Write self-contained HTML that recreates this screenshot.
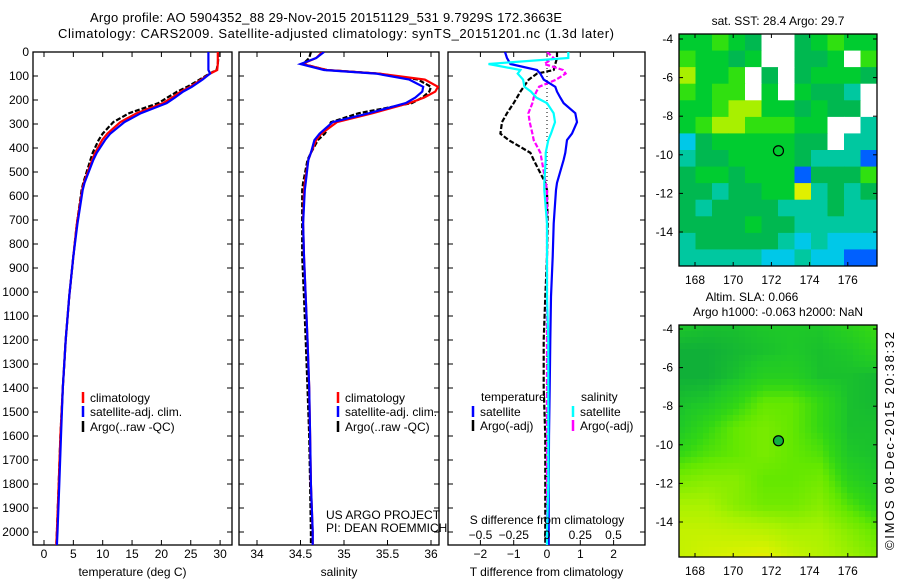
<!DOCTYPE html>
<html><head><meta charset="utf-8"><style>
html,body{margin:0;padding:0;background:#fff;}
svg{display:block;font-family:"Liberation Sans",sans-serif;}
text{fill:#000;}
</style></head><body>
<svg id="fig" width="900" height="580" viewBox="0 0 900 580">
<text x="326" y="22" font-size="13" text-anchor="middle" textLength="472">Argo profile: AO 5904352_88 29-Nov-2015 20151129_531 9.7929S 172.3663E</text>
<text x="336" y="38" font-size="13" text-anchor="middle" textLength="556">Climatology: CARS2009. Satellite-adjusted climatology: synTS_20151201.nc (1.3d later)</text>
<g id="g"></g>
</svg>
<script>
// ---------- data ----------
const depths = [0,25,50,75,90,115,145,165,190,213,255,292,340,367,420,450,545,575,714,853,1020,1200,1400,1600,1800,2000,2054];
const tempClim = [29.6,29.6,29.6,29.5,28.3,26.8,24.9,23.3,21.8,20.3,15.8,13.0,10.8,9.9,8.7,8.2,6.8,6.5,5.6,5.0,4.3,3.7,3.2,2.8,2.5,2.2,2.1];
const tempSat  = [28.0,28.0,28.0,28.0,28.3,27.0,25.2,23.7,22.3,20.9,16.5,13.7,11.3,10.4,9.0,8.4,6.9,6.6,5.7,5.0,4.3,3.7,3.2,2.9,2.6,2.3,2.2];
const tempArgo = [29.7,29.7,29.6,29.4,28.2,26.5,24.4,22.7,21.0,19.5,14.5,11.8,10.0,9.3,8.3,7.9,6.7,6.4,5.6,5.0,4.3,3.7,3.2,2.8,2.5,2.2,2.1];
const salClim  = [34.75,34.68,34.52,34.8,35.4,35.93,36.08,36.05,35.92,35.75,35.33,34.92,34.74,34.68,34.62,34.59,34.55,34.54,34.53,34.54,34.56,34.58,34.6,34.61,34.62,34.64,34.64];
const salSat   = [34.77,34.68,34.5,34.77,35.37,35.75,35.91,35.9,35.82,35.71,35.29,34.87,34.72,34.66,34.62,34.59,34.56,34.55,34.53,34.54,34.56,34.58,34.6,34.61,34.62,34.64,34.64];
const salArgo  = [34.62,34.6,34.53,34.8,35.4,35.85,36.0,35.98,35.9,35.78,35.17,34.85,34.78,34.7,34.62,34.58,34.53,34.52,34.52,34.52,34.54,34.56,34.58,34.6,34.61,34.62,34.62];
const dTsat  = [-1.26,-1.2,-1.1,-0.3,-0.2,-0.1,0.25,0.3,0.4,0.5,0.85,0.9,0.75,0.6,0.55,0.5,0.3,0.27,0.2,0.17,0.12,0.1,0.08,0.06,0.05,0.05,0.05];
const dSsat  = [0.16,0.16,-0.44,-0.2,-0.22,-0.18,-0.17,-0.12,-0.08,0.0,0.05,0.06,0.03,0.01,-0.01,-0.01,-0.02,-0.02,0.0,0.0,0.0,0.01,0.01,0.01,0.01,0.0,0.0];
const dTargo = [0.3,0.3,0.25,0.2,-0.3,-0.55,-0.7,-0.8,-0.9,-1.0,-1.2,-1.35,-1.4,-1.15,-0.5,-0.4,-0.05,0.0,0.02,0.0,-0.05,-0.1,-0.1,-0.05,-0.05,-0.05,-0.05];
const dSargo = [0.0,0.05,-0.02,0.12,0.14,0.07,-0.06,-0.08,-0.1,-0.11,-0.14,-0.13,-0.11,-0.1,-0.05,-0.04,-0.01,0.0,0.0,0.0,0.0,0.0,0.0,0.0,0.0,0.0,0.0];
const depthTicks = [0,100,200,300,400,500,600,700,800,900,1000,1100,1200,1300,1400,1500,1600,1700,1800,1900,2000];
const tempTicks = [0,5,10,15,20,25,30];
const salTicks = [34,34.5,35,35.5,36];
const salTickLabels = ["34","34.5","35","35.5","36"];
const dTTicks = [-2,-1,0,1,2];
const dSTicks = [-0.5,-0.25,0,0.25,0.5];
const dSTickLabels = ["\u22120.5","\u22120.25","0","0.25","0.5"];
const lonTicks = [168,170,172,174,176];
const latTicks = [-4,-6,-8,-10,-12,-14];
const argoLon = 172.37, argoLat = -9.79;
// SST map grid (palette index, -1 = missing), rows from north to south
const sstGrid = [
[5,5,6,5,4,-1,-1,4,5,6,5,5],
[6,5,5,4,5,-1,-1,4,4,5,-1,6],
[7,5,5,6,-1,4,-1,4,5,5,5,4],
[6,5,6,6,-1,5,-1,5,4,4,3,-1],
[5,5,6,7,7,5,5,4,5,4,4,-1],
[5,6,7,7,6,6,6,5,5,-1,-1,3],
[2,4,5,5,5,5,5,4,4,-1,3,3],
[3,4,4,5,5,5,5,4,3,3,3,1],
[4,5,5,4,5,5,5,1,4,4,4,6],
[4,4,3,4,4,5,5,8,3,4,3,4],
[4,3,4,4,4,4,3,3,3,4,3,3],
[4,4,4,4,5,4,4,3,3,3,3,3],
[3,4,4,4,4,4,3,2,3,2,2,2],
[3,3,3,3,3,2,2,3,2,2,1,1]];
const slaGrid = [
[5,4.9,4.9,5,5,5,5.3,5.6],
[4.7,4.7,4.8,4.9,5,4.9,5,5.3],
[4.7,4.7,4.9,5.2,5.2,4.9,4.9,4.8],
[4.9,5,5.4,6,6,5.5,4.9,4.8],
[5,5.5,6,6.3,6,5.5,4.9,4.9],
[5.5,5.8,6,6.3,6,5.8,5,4.9],
[6.3,6.5,6.5,6,6,6.2,5.3,5],
[7,7,6.5,6.2,6.2,6.5,5.8,5.3],
[7.5,7.5,7.4,7.3,7,7,6.5,6],
[7.5,7.8,8,8.2,7.6,7.2,6.8,6.4]];
</script>
<script>
const NS='http://www.w3.org/2000/svg';
const G=document.getElementById('g');
function mk(tag,attrs,parent){const e=document.createElementNS(NS,tag);for(const k in attrs)e.setAttribute(k,attrs[k]);(parent||G).appendChild(e);return e;}
function txt(x,y,s,anchor,size,parent){const t=mk('text',{x:x,y:y,'font-size':size||12,'text-anchor':anchor||'middle'},parent);t.textContent=s;return t;}
const yTop=52,yPer=0.24,fTop=52,fBot=545;
const yD=d=>yTop+d*yPer;

function panel(name,x0,x1,xs,ticks,labels,xlabel,series,showDepthLabels){
  const g=mk('g',{});
  
  
  const fr=mk('rect',{x:x0,y:fTop,width:x1-x0,height:fBot-fTop,fill:'none',stroke:'#000','stroke-width':1.3},g);
  
  
  depthTicks.forEach(d=>{
    const y=yD(d);
    mk('line',{x1:x0,x2:x0+5,y1:y,y2:y,stroke:'#000'},g);
    mk('line',{x1:x1-5,x2:x1,y1:y,y2:y,stroke:'#000'},g);
    if(showDepthLabels){const t=txt(x0-4,y+4,String(d),'end',12,g);
      
      }
  });
  ticks.forEach((v,i)=>{
    const x=xs(v);
    mk('line',{x1:x,x2:x,y1:fBot,y2:fBot-5,stroke:'#000'},g);
    mk('line',{x1:x,x2:x,y1:fTop,y2:fTop+5,stroke:'#000'},g);
    if(labels){const t=txt(x,558,labels[i],'middle',12,g);
      
      }
  });
  const xl=txt((x0+x1)/2,576,xlabel,'middle',12,g);
  
  
  const cp=mk('clipPath',{id:'cp'+name},g);
  mk('rect',{x:x0,y:fTop,width:x1-x0,height:fBot-fTop},cp);
  series.forEach(s=>{
    const pts=s.vals.map((v,i)=>s.xs(v).toFixed(1)+','+yD(depths[i]).toFixed(1)).join(' ');
    const p=mk('polyline',{points:pts,fill:'none',stroke:s.color,'stroke-width':2.2,'stroke-dasharray':s.dash||'none','clip-path':'url(#cp'+name+')'},g);
    
    
  });
  return g;
}
function legendEntry(x,y,color,label,parent,name){
  const l=mk('line',{x1:x,x2:x,y1:y-10,y2:y+1,stroke:color,'stroke-width':2.5},parent);
  const t=txt(x+7,y,label,'start',12,parent);
  const g=mk('g',{},parent);g.appendChild(l);g.appendChild(t);
  
  
}
// Panel 1 temperature
const xT=v=>44+v*5.87;
const p1=panel('temperature-panel',33,232,xT,tempTicks,tempTicks.map(String),'temperature (deg C)',[
 {vals:tempArgo,xs:xT,color:'#000',dash:'5,2',name:'argo-temperature-line'},
 {vals:tempClim,xs:xT,color:'#f00',name:'climatology-temperature-line'},
 {vals:tempSat,xs:xT,color:'#00f',name:'satellite-temperature-line'}],true);
legendEntry(83,402,'#f00','climatology',p1,'legend-climatology');
legendEntry(83,416,'#00f','satellite-adj. clim.',p1,'legend-satellite');
legendEntry(83,431,'#000','Argo(..raw -QC)',p1,'legend-argo');
// Panel 2 salinity
const xS=v=>257+(v-34)*87;
const p2=panel('salinity-panel',239,439,xS,salTicks,salTickLabels,'salinity',[
 {vals:salArgo,xs:xS,color:'#000',dash:'5,2',name:'argo-salinity-line'},
 {vals:salClim,xs:xS,color:'#f00',name:'climatology-salinity-line'},
 {vals:salSat,xs:xS,color:'#00f',name:'satellite-salinity-line'}],false);
legendEntry(338,402,'#f00','climatology',p2,'legend-climatology-2');
legendEntry(338,416,'#00f','satellite-adj. clim.',p2,'legend-satellite-2');
legendEntry(338,431,'#000','Argo(..raw -QC)',p2,'legend-argo-2');
const u1=txt(326,519,'US ARGO PROJECT','start',12,p2);
const u2=txt(326,532,'PI: DEAN ROEMMICH','start',12,p2);
// Panel 3 differences
const xdT=v=>547+v*33.3, xdS=v=>547+v*133;
const p3=panel('difference-panel',448,645,xdT,dTTicks,dTTicks.map(v=>v<0?'\u2212'+(-v):String(v)),'T difference from climatology',[],false);
mk('line',{x1:xdT(0),x2:xdT(0),y1:fTop,y2:fBot,stroke:'#000','stroke-dasharray':'1,3'},p3);
[{vals:dTargo,xs:xdT,color:'#000',dash:'5,2',name:'argo-temp-diff-line'},
 {vals:dSargo,xs:xdS,color:'#f0f',dash:'5,2',name:'argo-sal-diff-line'},
 {vals:dTsat,xs:xdT,color:'#00f',name:'satellite-temp-diff-line'},
 {vals:dSsat,xs:xdS,color:'#0ff',name:'satellite-sal-diff-line'}].forEach(s=>{
  const pts=s.vals.map((v,i)=>s.xs(v).toFixed(1)+','+yD(depths[i]).toFixed(1)).join(' ');
  const p=mk('polyline',{points:pts,fill:'none',stroke:s.color,'stroke-width':2.2,'stroke-dasharray':s.dash||'none','clip-path':'url(#cpdifference-panel)'},p3);
  
  
});
dSTicks.forEach((v,i)=>{const t=txt(xdS(v),539,dSTickLabels[i],'middle',12,p3);
  });
const sl=txt(547,524,'S difference from climatology','middle',12,p3);
const lt=txt(481,401,'temperature','start',12,p3);
const ls=txt(581,401,'salinity','start',12,p3);
legendEntry(473,416,'#00f','satellite',p3,'legend-temp-satellite');
legendEntry(473,430,'#000','Argo(-adj)',p3,'legend-temp-argo');
legendEntry(573,416,'#0ff','satellite',p3,'legend-sal-satellite');
legendEntry(573,430,'#f0f','Argo(-adj)',p3,'legend-sal-argo');

// ---------- maps ----------
const sstPal=['#0010a0','#0060ff','#00c8e8','#00c8a0','#00b850','#00cc30','#30e010','#a8f000','#e0f000','#ffc000'];
function slaColor(v){
  const stops=[[4.7,[16,176,56]],[5,[30,200,40]],[5.5,[50,215,20]],[6,[100,232,0]],[7,[170,242,0]],[8,[220,242,0]],[8.3,[235,232,0]]];
  for(let i=0;i<stops.length-1;i++){const a=stops[i],b=stops[i+1];
    if(v<=b[0]||i==stops.length-2){const t=Math.max(0,Math.min(1,(v-a[0])/(b[0]-a[0])));
      return 'rgb('+a[1].map((c,k)=>Math.round(c+(b[1][k]-c)*t)).join(',')+')';}}
}
function mapAxes(name,x0,x1,y0,y1,lat4y){
  const g=mk('g',{});
  
  
  const lx=v=>695+(v-168)*19.1, ly=v=>lat4y+(-4-v)*19.3;
  return {g,lx,ly,finish:()=>{
    const fr=mk('rect',{x:x0,y:y0,width:x1-x0,height:y1-y0,fill:'none',stroke:'#000','stroke-width':1.3},g);
    
    lonTicks.forEach(v=>{const x=lx(v);mk('line',{x1:x,x2:x,y1:y1,y2:y1-4,stroke:'#000'},g);mk('line',{x1:x,x2:x,y1:y0,y2:y0+4,stroke:'#000'},g);
      const t=txt(x,y1+18,String(v),'middle',12,g);});
    latTicks.forEach(v=>{const y=ly(v);mk('line',{x1:x0,x2:x0+4,y1:y,y2:y,stroke:'#000'},g);mk('line',{x1:x1-4,x2:x1,y1:y,y2:y,stroke:'#000'},g);
      const t=txt(x0-6,y+4,String(v),'end',12,g);});
    const c=mk('circle',{cx:lx(argoLon),cy:ly(argoLat),r:5,fill:name==='sla-map'?'#10b040':'none',stroke:'#000','stroke-width':1.2},g);
    
  }};
}
// SST map
(function(){
  const x0=679,x1=877,y0=34,y1=266;
  const m=mapAxes('sst-map',x0,x1,y0,y1,39);
  const rows=sstGrid.length, cols=sstGrid[0].length;
  const cw=(x1-x0)/cols, ch=(y1-y0)/rows;
  sstGrid.forEach((row,r)=>row.forEach((v,c)=>{
    const cell=mk('rect',{x:(x0+c*cw).toFixed(1),y:(y0+r*ch).toFixed(1),width:(cw+0.5).toFixed(1),height:(ch+0.5).toFixed(1),fill:v<0?'#fff':sstPal[v]},m.g);
    
    
  }));
  m.finish();
  const t=txt(778,25,'sat. SST: 28.4 Argo: 29.7','middle',12,m.g);
})();
// SLA map
(function(){
  const x0=679,x1=877,y0=325,y1=557;
  const m=mapAxes('sla-map',x0,x1,y0,y1,329);
  const rows=slaGrid.length, cols=slaGrid[0].length;
  const step=6;
  for(let y=y0;y<y1;y+=step){for(let x=x0;x<x1;x+=step){
    const fc=((x+step/2-x0)/(x1-x0))*(cols-1), fr=((y+step/2-y0)/(y1-y0))*(rows-1);
    const c0=Math.floor(fc),r0=Math.floor(fr),c1=Math.min(cols-1,c0+1),r1=Math.min(rows-1,r0+1),tx=fc-c0,ty=fr-r0;
    const v=(slaGrid[r0][c0]*(1-tx)+slaGrid[r0][c1]*tx)*(1-ty)+(slaGrid[r1][c0]*(1-tx)+slaGrid[r1][c1]*tx)*ty;
    const cell=mk('rect',{x:x,y:y,width:Math.min(step,x1-x)+0.3,height:Math.min(step,y1-y)+0.3,fill:slaColor(v)},m.g);
    
    
  }}
  m.finish();
  const t1=txt(752,301,'Altim. SLA: 0.066','middle',12,m.g);
  const t2=txt(778,316,'Argo h1000: -0.063 h2000: NaN','middle',12,m.g);
})();
const cr=txt(0,0,'\u00a9IMOS 08-Dec-2015 20:38:32','middle',13);
cr.setAttribute('textLength','218');
cr.setAttribute('transform','translate(894,441) rotate(-90)');


</script>
</body></html>
